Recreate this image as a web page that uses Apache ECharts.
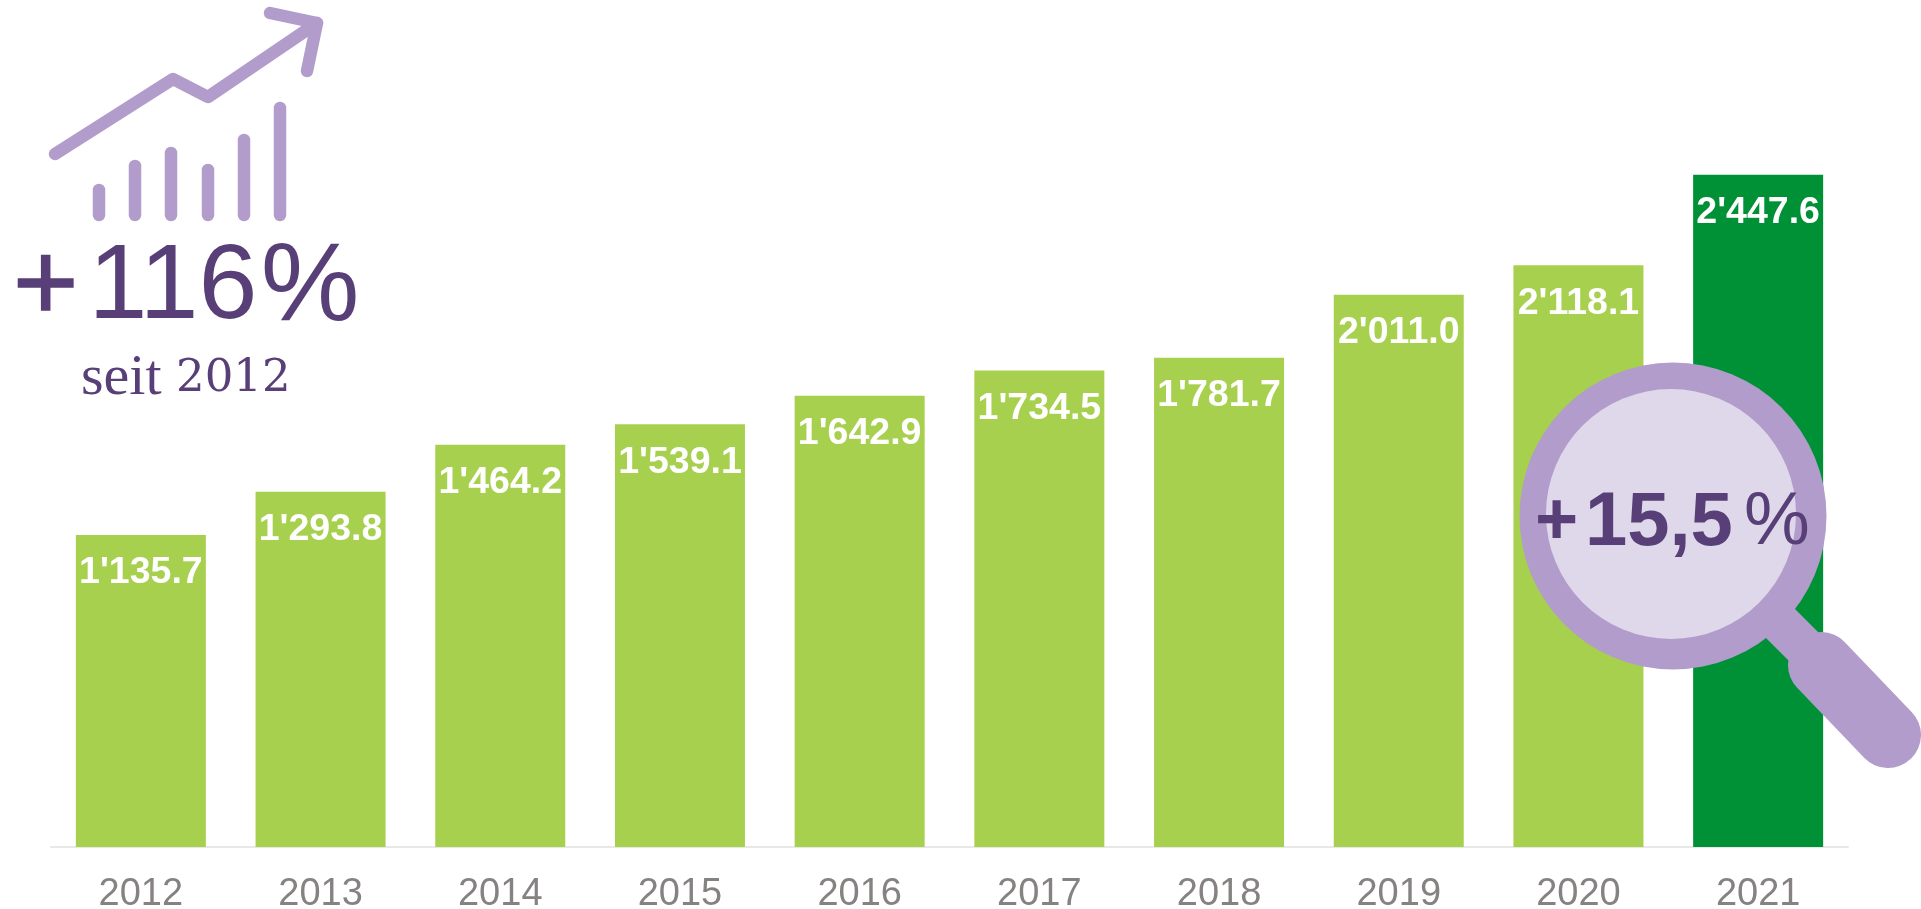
<!DOCTYPE html>
<html><head><meta charset="utf-8">
<style>html,body{margin:0;padding:0;background:#fff}#c{width:1921px;height:909px}</style>
<script src="https://cdn.jsdelivr.net/npm/echarts@6/dist/echarts.min.js"></script>
</head><body><div id="c"></div>
<script>
const years = ['2012','2013','2014','2015','2016','2017','2018','2019','2020','2021'];
const values = [1135.7,1293.8,1464.2,1539.1,1642.9,1734.5,1781.7,2011.0,2118.1,2447.6];
const highlightYear = '2021';
const iconBarTops = [190,166,153,170,140,108];
const iconBarXs = [99,135,171,208,244,280];
const LIGHT='#A8D04F', DARK='#009136', RING='#B19CCB', LENS='#DFD8EA', INK='#583F77';
const fmt = v => { const s=v.toFixed(1), p=s.split('.'); return (p[0].length>3 ? p[0].slice(0,-3)+"'"+p[0].slice(-3) : p[0])+'.'+p[1]; };
const lineStyle = w => ({stroke:RING,lineWidth:w,lineCap:'round',lineJoin:'round',fill:null});
const icon = [
 {type:'polyline',shape:{points:[[55,154],[173,79],[208,97],[317,23]]},style:lineStyle(12.5)},
 {type:'polyline',shape:{points:[[270,13],[317,23],[307,71]]},style:lineStyle(12.5)},
 ...iconBarXs.map((x,i)=>({type:'line',shape:{x1:x,y1:iconBarTops[i],x2:x,y2:215},style:lineStyle(12.5)}))
];
const sans='"Liberation Sans"';
const t = (size,extra)=>Object.assign({fontFamily:sans,fontSize:size,fill:INK},extra||{});
const chart = echarts.init(document.getElementById('c'),null,{renderer:'canvas'});
chart.setOption({
 animation:false,
 grid:{left:51,right:73,top:23,bottom:62,containLabel:false,outerBoundsMode:'none'},
 xAxis:{type:'category',data:years,offset:1,
  axisLine:{show:true,lineStyle:{color:'#E8E8E8',width:2}},axisTick:{show:false},
  axisLabel:{color:'#878282',fontFamily:sans,fontSize:38,margin:28,interval:0}},
 yAxis:{type:'value',min:0,max:3000,show:false,splitLine:{show:false}},
 series:[{type:'bar',barWidth:130,
  data:values.map((v,i)=>({value:v,itemStyle:{color:years[i]===highlightYear?DARK:LIGHT}})),
  label:{show:true,position:'insideTop',distance:19,color:'#fff',fontFamily:sans,fontWeight:'bold',fontSize:37.5,
   formatter:p=>fmt(p.value)}}],
 graphic:[
  ...icon,
  {type:'text',style:{x:13,y:289,text:'{p|+}{g| }{n|116}{h| }{c|%}',verticalAlign:'middle',
   rich:{p:t(112,{stroke:INK,lineWidth:1.5}),g:t(36),n:t(106),h:t(12),c:t(111)}}},
  {type:'text',style:{x:81,y:379,text:'{a|seit }{b|2012}',verticalAlign:'middle',
   rich:{a:{fontFamily:'"Liberation Serif"',fontSize:58,fill:INK},b:{fontFamily:'"DejaVu Serif"',fontSize:45,fill:INK}}}},
  {type:'line',z:20,shape:{x1:1770,y1:613,x2:1822,y2:665},style:{stroke:RING,lineWidth:41}},
  {type:'line',z:20,shape:{x1:1821,y1:665,x2:1888,y2:735},style:{stroke:RING,lineWidth:66,lineCap:'round'}},
  {type:'circle',z:21,shape:{cx:1673,cy:516,r:153.5},style:{fill:RING}},
  {type:'circle',z:21,shape:{cx:1671,cy:514,r:125},style:{fill:LENS}},
  {type:'text',z:22,style:{x:1535,y:524,text:'{p|+}{g| }{n|15,5}{h| }{c|%}',verticalAlign:'middle',
   rich:{p:t(74,{fontWeight:'bold'}),g:t(24),n:t(76,{fontWeight:'bold'}),h:t(40),c:t(74)}}}
 ]
});
</script></body></html>
